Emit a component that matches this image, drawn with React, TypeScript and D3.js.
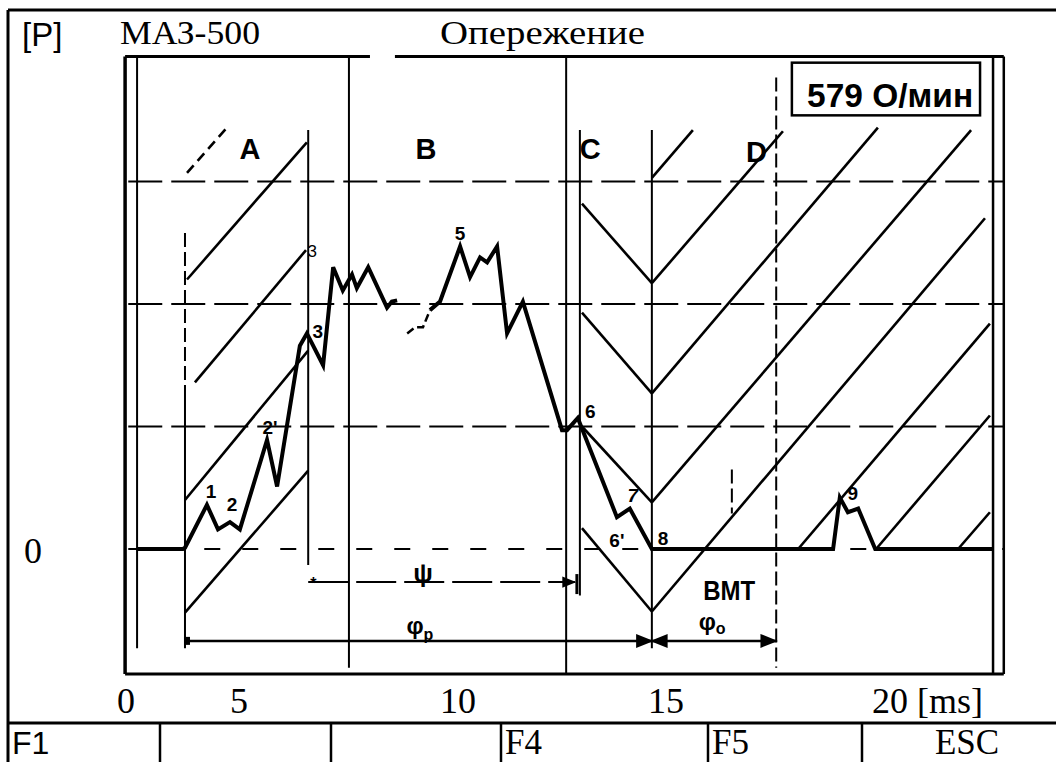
import React from 'react';
import * as d3 from 'd3';

// ---- data (ms, pressure units) ----
const xTicks = [0, 5, 10, 15, 20];
const xTickLabels = ['0', '5', '10', '15', '20 [ms]'];
const gridLevels = [1, 2, 3];
const keyLabels = ['F1', '', '', 'F4', 'F5', 'ESC'];

const pressureMain: [number, number][] = [
  [0.49, 0], [2.52, 0], [2.61, 0.01], [3.58, 0.36], [4.07, 0.16], [4.6, 0.22], [5.02, 0.16],
  [5.64, 0.89], [5.87, 0.51], [6.39, 1.66], [6.55, 1.76], [6.92, 1.5], [7.15, 2.3], [7.37, 2.11],
  [7.58, 2.24], [7.69, 2.13], [7.95, 2.3], [8.38, 1.97], [8.49, 2.02], [8.61, 2.03],
];
const pressureFaint: [number, number][] = [[8.84, 1.76], [9.02, 1.81], [9.2, 1.81], [9.36, 1.95]];
const pressureLate: [number, number][] = [
  [9.36, 1.95], [9.59, 2.02], [10.05, 2.47], [10.29, 2.22], [10.53, 2.38], [10.7, 2.34], [10.94, 2.47],
  [11.18, 1.76], [11.56, 2.02], [12.5, 0.97], [12.62, 0.97], [12.88, 1.07], [13.82, 0.26], [14.13, 0.33],
  [14.66, 0], [18.73, 0], [18.88, 0.42], [19.06, 0.3], [19.29, 0.33], [19.67, 0], [22.3, 0],
];

// hatch segments [x1, p1, x2, p2]
const hatchA = [
  [2.61, -0.52, 6.58, 0.64],
  [2.61, 0.4, 6.58, 1.62],
  [3.05, 1.36, 6.53, 2.44],
  [2.7, 2.2, 6.55, 3.32],
];
const hatchADashed = [[2.7, 3.07, 4.47, 3.44]];
const hatchC = [
  [12.98, 2.82, 14.66, 2.17],
  [12.98, 1.93, 14.66, 1.27],
  [12.98, 1.0, 14.66, 0.38],
  [12.98, 0.17, 14.66, -0.51],
];
const hatchD = [
  [14.66, 2.17, 17.61, 3.41],
  [14.66, 1.27, 19.73, 3.44],
  [14.66, 0.38, 21.81, 3.42],
  [14.66, -0.51, 22.12, 2.7],
  [17.95, 0, 22.23, 1.84],
  [19.69, 0, 22.23, 1.09],
  [21.52, 0, 22.23, 0.3],
  [14.66, 3.03, 15.6, 3.42],
];

// vertical lines [x, pTop, pBottom]
const frameVerticals = [[-0.04, 4.02, -1.02], [22.3, 4.02, -1.02], [22.54, 4.02, -1.02]];
const solidVerticals = [
  [0.49, 4.02, -0.81], [2.61, 1.29, -0.81], [6.58, 3.42, -0.13], [7.51, 4.02, -0.97],
  [12.6, 4.02, -1.02], [12.93, 3.42, -0.38], [14.66, 3.42, -0.81],
];
const dashedVerticals = [[17.46, 3.85, -0.97], [16.47, 0.65, 0.29], [2.61, 2.58, 1.29]];
// frame horizontals [p, x1, x2]
const frameHorizontals = [[4.02, -0.04, 7.99], [4.02, 8.56, 22.54], [-1.02, -0.04, 22.54]];
const gridExtent = [0.1, 22.54];

// arrows [x1, x2, p]
const psiArrow = [6.58, 12.81, -0.27];
const phiPArrow = [2.61, 14.66, -0.75];
const phiOArrow = [14.66, 17.46, -0.75];

// annotations [text, x, p]
const pointLabels: [string, number, number][] = [
  ['1', 3.76, 0.42], ['2', 4.69, 0.31], ["2'", 5.71, 0.94], ['3', 6.8, 1.72], ['5', 10.05, 2.52],
  ['6', 13.18, 1.07], ["6'", 13.82, 0.02], ['8', 14.93, 0.03], ['9', 19.17, 0.4],
];
const regionLabels: [string, number, number][] = [
  ['A', 5.25, 3.18], ['B', 9.27, 3.18], ['C', 13.18, 3.18], ['D', 17.02, 3.16],
];
const rpmBox = [17.81, 22.01, 3.97, 3.54];
const rpmText = '579 О/мин';
const title1 = 'МАЗ-500';
const title2 = 'Опережение';

const SERIF = '"Liberation Serif", "Times New Roman", serif';
const SANS = '"Liberation Sans", Arial, sans-serif';

export default function App() {
  const W = 1056, H = 762;
  const x = d3.scaleLinear().domain(xTicks).range([126, 239, 458, 666, 890]);
  const y = d3.scaleLinear().domain([0, 4]).range([549, 59]);
  const line = d3.line<[number, number]>().x(d => x(d[0])).y(d => y(d[1]));
  const seg = (s: number[], k: string, props: any) => (
    <line key={k} x1={x(s[0])} y1={y(s[1])} x2={x(s[2])} y2={y(s[3])} {...props} />
  );
  const vline = (v: number[], k: string, props: any) => (
    <line key={k} x1={x(v[0])} y1={y(v[1])} x2={x(v[0])} y2={y(v[2])} {...props} />
  );
  const rowY = 723;
  const keyEdges = [8, 160, 331, 501, 708, 862, 1056];

  return (
    <svg width={W} height={H} style={{ position: 'absolute', left: 0, top: 0, background: '#fff' }}>
      <defs>
        <marker id="arr" viewBox="0 0 10 10" refX="9" refY="5" markerWidth="7" markerHeight="7" orient="auto-start-reverse">
          <path d="M0,1 L10,5 L0,9 z" fill="#000" />
        </marker>
      </defs>
      {/* outer UI frame */}
      <line x1={8} y1={10} x2={W} y2={10} stroke="#000" strokeWidth={3} />
      <line x1={8} y1={10} x2={8} y2={H} stroke="#000" strokeWidth={3} />
      <line x1={8} y1={rowY} x2={W} y2={rowY} stroke="#000" strokeWidth={3} />
      {keyEdges.slice(1, -1).map((e, i) => (
        <line key={'ke' + i} x1={e} y1={rowY} x2={e} y2={H} stroke="#000" strokeWidth={2.5} />
      ))}
      {keyLabels.map((t, i) => t === '' ? null : (
        <text key={'kl' + i}
          x={t === 'ESC' ? (keyEdges[i] + keyEdges[i + 1]) / 2 + 8 : keyEdges[i] + 4}
          y={754}
          textAnchor={t === 'ESC' ? 'middle' : 'start'}
          fontFamily={i === 0 ? SANS : SERIF}
          fontSize={i === 0 ? 32 : 35}>{t}</text>
      ))}

      {/* titles */}
      <text x={22} y={46} fontFamily={SANS} fontSize={33}>[P]</text>
      <text x={120} y={44} fontFamily={SERIF} fontSize={33} textLength={140} lengthAdjust="spacingAndGlyphs">{title1}</text>
      <text x={440} y={44} fontFamily={SERIF} fontSize={33} textLength={205} lengthAdjust="spacingAndGlyphs">{title2}</text>

      {/* axis labels */}
      {xTicks.map((t, i) => (
        <text key={'xt' + i} x={i === xTicks.length - 1 ? x(t) - 18 : x(t)} y={713}
          textAnchor={i === xTicks.length - 1 ? 'start' : 'middle'} fontFamily={SERIF} fontSize={36}>{xTickLabels[i]}</text>
      ))}
      <text x={33} y={y(0) + 14} textAnchor="middle" fontFamily={SERIF} fontSize={36}>0</text>

      {/* scan frame */}
      {frameHorizontals.map((h, i) => (
        <line key={'fh' + i} x1={x(h[1])} y1={y(h[0])} x2={x(h[2])} y2={y(h[0])} stroke="#000" strokeWidth={3} />
      ))}
      {frameVerticals.map((v, i) => vline(v, 'fv' + i, { stroke: '#000', strokeWidth: i === 0 ? 3.5 : 2.5 }))}
      {solidVerticals.map((v, i) => vline(v, 'sv' + i, { stroke: '#000', strokeWidth: 2 }))}
      {dashedVerticals.map((v, i) => vline(v, 'dv' + i, { stroke: '#000', strokeWidth: 2, strokeDasharray: '14,5' }))}

      {/* grid */}
      {gridLevels.map((p, i) => (
        <line key={'g' + i} x1={x(gridExtent[0])} y1={y(p)} x2={x(gridExtent[1])} y2={y(p)}
          stroke="#000" strokeWidth={2.2} strokeDasharray="34,9" />
      ))}
      <line x1={x(gridExtent[0])} y1={y(0)} x2={x(gridExtent[1])} y2={y(0)} stroke="#000" strokeWidth={1.8} strokeDasharray="16,22" />

      {/* hatching */}
      {hatchA.map((s, i) => seg(s, 'ha' + i, { stroke: '#000', strokeWidth: 2.6 }))}
      {hatchADashed.map((s, i) => seg(s, 'had' + i, { stroke: '#000', strokeWidth: 2.6, strokeDasharray: '10,6' }))}
      {hatchC.map((s, i) => seg(s, 'hc' + i, { stroke: '#000', strokeWidth: 2.6 }))}
      {hatchD.map((s, i) => seg(s, 'hd' + i, { stroke: '#000', strokeWidth: 2.6 }))}

      {/* pressure curve */}
      <path d={line(pressureMain) || ''} fill="none" stroke="#000" strokeWidth={4} strokeLinejoin="miter" />
      <path d={line(pressureFaint) || ''} fill="none" stroke="#000" strokeWidth={2.5} strokeDasharray="8,4" />
      <path d={line(pressureLate) || ''} fill="none" stroke="#000" strokeWidth={4} strokeLinejoin="miter" />

      {/* angle arrows */}
      <line x1={x(psiArrow[0])} y1={y(psiArrow[2])} x2={x(psiArrow[1])} y2={y(psiArrow[2])}
        stroke="#000" strokeWidth={2} strokeDasharray="40,8" markerEnd="url(#arr)" />
      <line x1={x(psiArrow[1]) + 2} y1={y(psiArrow[2]) - 8} x2={x(psiArrow[1]) + 2} y2={y(psiArrow[2]) + 12} stroke="#000" strokeWidth={3} />
      <text x={x(psiArrow[0]) + 2} y={y(psiArrow[2]) + 7} fontFamily={SANS} fontSize={16} fontWeight="bold">*</text>
      <line x1={x(phiPArrow[0])} y1={y(phiPArrow[2])} x2={x(phiPArrow[1])} y2={y(phiPArrow[2])}
        stroke="#000" strokeWidth={2.5} markerEnd="url(#arr)" />
      <rect x={x(phiPArrow[0]) - 1} y={y(phiPArrow[2]) - 4} width={6} height={8} fill="#000" />
      <line x1={x(phiOArrow[0])} y1={y(phiOArrow[2])} x2={x(phiOArrow[1])} y2={y(phiOArrow[2])}
        stroke="#000" strokeWidth={2.5} markerStart="url(#arr)" markerEnd="url(#arr)" />

      {/* annotations */}
      <text x={x(9.2)} y={y(-0.27)} textAnchor="middle" fontFamily={SANS} fontSize={26} fontWeight="bold">ψ</text>
      <text x={x(9.13)} y={y(-0.69)} textAnchor="middle" fontFamily={SANS} fontSize={24} fontWeight="bold">φ<tspan fontSize={16} dy={6}>p</tspan></text>
      <text x={x(16.03)} y={y(-0.66)} textAnchor="middle" fontFamily={SANS} fontSize={24} fontWeight="bold">φ<tspan fontSize={16} dy={4}>o</tspan></text>
      <text x={x(16.41)} y={y(-0.42)} textAnchor="middle" fontFamily={SANS} fontSize={28} fontWeight="bold" textLength={52} lengthAdjust="spacingAndGlyphs">BMT</text>
      {pointLabels.map((l, i) => (
        <text key={'pl' + i} x={x(l[1])} y={y(l[2])} textAnchor="middle" fontFamily={SANS} fontSize={19} fontWeight="bold">{l[0]}</text>
      ))}
      <text x={x(14.2)} y={y(0.38)} textAnchor="middle" fontFamily={SANS} fontSize={19} fontWeight="bold" fontStyle="italic">7</text>
      <text x={x(6.67)} y={y(2.38)} textAnchor="middle" fontFamily={SANS} fontSize={17}>3</text>
      {regionLabels.map((l, i) => (
        <text key={'rl' + i} x={x(l[1])} y={y(l[2])} textAnchor="middle" fontFamily={SANS} fontSize={29} fontWeight="bold">{l[0]}</text>
      ))}

      {/* rpm box */}
      <rect x={x(rpmBox[0])} y={y(rpmBox[2])} width={x(rpmBox[1]) - x(rpmBox[0])} height={y(rpmBox[3]) - y(rpmBox[2])}
        fill="none" stroke="#000" strokeWidth={2.5} />
      <text x={x(18.15)} y={y(3.61)} fontFamily={SANS} fontSize={33} fontWeight="bold" textLength={166} lengthAdjust="spacingAndGlyphs">{rpmText}</text>
    </svg>
  );
}
